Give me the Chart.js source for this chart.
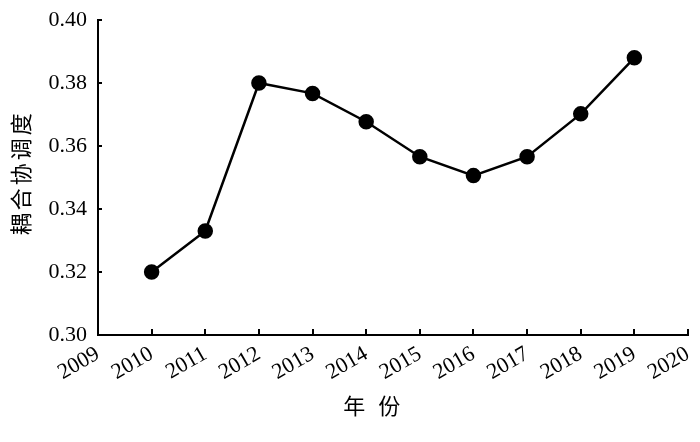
<!DOCTYPE html>
<html><head><meta charset="utf-8">
<script src="https://cdn.jsdelivr.net/npm/chart.js@4/dist/chart.umd.min.js"></script>
<style>html,body{margin:0;padding:0;background:#fff}#wrap{width:700px;height:442px}</style>
</head><body><div id="wrap"><canvas id="c"></canvas></div>
<script>
const years = [2010, 2011, 2012, 2013, 2014, 2015, 2016, 2017, 2018, 2019];
const values = [0.320, 0.333, 0.380, 0.3767, 0.3677, 0.3566, 0.3506, 0.3566, 0.3702, 0.388];
const xTitle = ['年', '份'];
const yTitle = ['耦', '合', '协', '调', '度'];

const serif = '"Liberation Serif", "Times New Roman", serif';
const cjk = '"Noto Sans CJK SC", sans-serif';

const innerTicks = {
  id: 'innerTicks',
  afterDraw(chart) {
    const ctx = chart.ctx, a = chart.chartArea;
    const xs = chart.scales.x, ys = chart.scales.y;
    ctx.save();
    ctx.strokeStyle = '#000';
    ctx.lineWidth = 2;
    ctx.beginPath();
    xs.ticks.forEach(t => { const px = Math.round(xs.getPixelForValue(t.value)); ctx.moveTo(px, a.bottom); ctx.lineTo(px, a.bottom - 6); });
    ys.ticks.forEach(t => { const py = Math.round(ys.getPixelForValue(t.value)); ctx.moveTo(a.left, py); ctx.lineTo(a.left + 4, py); });
    ctx.stroke();
    ctx.fillStyle = '#000';
    ctx.font = '22px ' + cjk;
    ctx.textAlign = 'center';
    ctx.textBaseline = 'middle';
    const xc = a.left + (a.right - a.left) * 0.464;
    const xgap = 35;
    xTitle.forEach((ch, i) => ctx.fillText(ch, xc + (i - (xTitle.length - 1) / 2) * xgap, 406));
    ctx.translate(21, a.top + (a.bottom - a.top) * 0.490);
    ctx.rotate(-Math.PI / 2);
    const ygap = 25;
    yTitle.forEach((ch, i) => ctx.fillText(ch, (i - (yTitle.length - 1) / 2) * ygap, 0));
    ctx.restore();
  }
};

new Chart(document.getElementById('c'), {
  type: 'line',
  data: {
    datasets: [{
      data: years.map((y, i) => ({ x: y, y: values[i] })),
      borderColor: '#000',
      backgroundColor: '#000',
      borderWidth: 2.5,
      pointRadius: 6.5,
      pointHoverRadius: 6.5,
      pointBackgroundColor: '#000',
      pointBorderColor: '#000',
      tension: 0
    }]
  },
  options: {
    responsive: true,
    maintainAspectRatio: false,
    animation: false,
    layout: { padding: { top: 20, right: 12, left: 0, bottom: 0 } },
    plugins: { legend: { display: false }, tooltip: { enabled: false } },
    scales: {
      x: {
        type: 'linear', min: 2009, max: 2020,
        ticks: { stepSize: 1, autoSkip: false, color: '#000', font: { family: serif, size: 22 }, minRotation: 30, maxRotation: 30, padding: 6, callback: v => String(v) },
        grid: { display: true, drawOnChartArea: false, drawTicks: false, color: '#000' },
        border: { display: true, color: '#000', width: 2 },
        afterFit: s => { s.height = 107; s.paddingLeft = 0; s.paddingRight = 0; }
      },
      y: {
        min: 0.30, max: 0.40,
        ticks: { stepSize: 0.02, color: '#000', font: { family: serif, size: 22 }, padding: 11, callback: v => v.toFixed(2) },
        grid: { display: true, drawOnChartArea: false, drawTicks: false, color: '#000' },
        border: { display: true, color: '#000', width: 2 },
        afterFit: s => { s.width = 98; s.paddingTop = 0; s.paddingBottom = 0; }
      }
    }
  },
  plugins: [innerTicks]
});
</script>
</body></html>
